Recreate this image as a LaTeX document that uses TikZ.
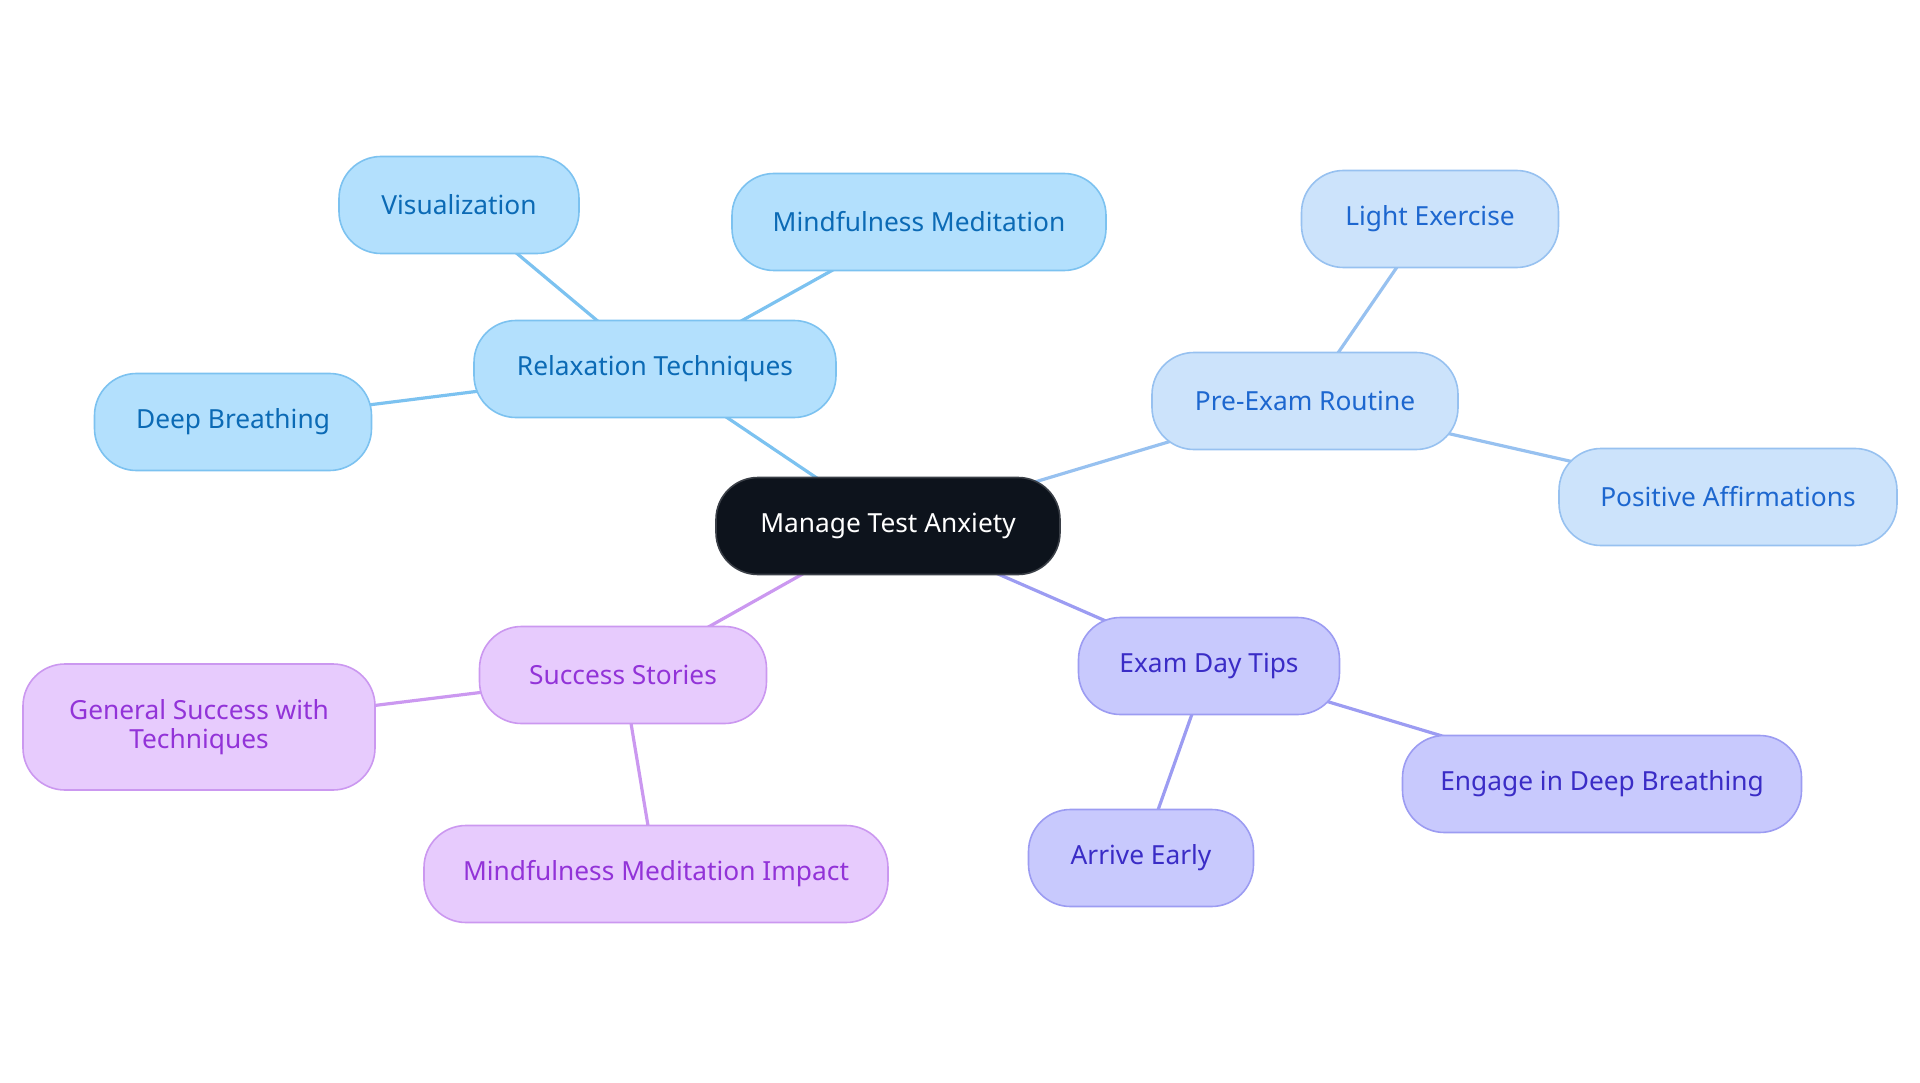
\documentclass[tikz,border=0pt]{standalone}
\usepackage{fontspec}
\setmainfont{Noto Sans}
\usetikzlibrary{backgrounds}
\definecolor{rootfill}{HTML}{0D131C}
\definecolor{rootdraw}{HTML}{3A3F47}
\definecolor{aFill}{HTML}{B3E0FD}
\definecolor{aDraw}{HTML}{7CC2F0}
\definecolor{aText}{HTML}{0B6AB5}
\definecolor{bFill}{HTML}{CCE3FB}
\definecolor{bDraw}{HTML}{97C1F0}
\definecolor{bText}{HTML}{1D67CF}
\definecolor{cFill}{HTML}{C8C9FD}
\definecolor{cDraw}{HTML}{9C9CF2}
\definecolor{cText}{HTML}{3A2CC6}
\definecolor{dFill}{HTML}{E7CBFD}
\definecolor{dDraw}{HTML}{CB98F0}
\definecolor{dText}{HTML}{9233D8}
\tikzset{
  x=1pt, y=-1pt,
  box/.style={rounded corners=42pt, minimum height=97pt, inner sep=0pt,
    line width=1.6pt, align=center,
    font=\fontsize{26.3}{30}\selectfont},
  rootbox/.style={box, fill=rootfill, draw=rootdraw, text=white},
  abox/.style={box, fill=aFill, draw=aDraw, text=aText},
  bbox/.style={box, fill=bFill, draw=bDraw, text=bText},
  cbox/.style={box, fill=cFill, draw=cDraw, text=cText},
  dbox/.style={box, fill=dFill, draw=dDraw, text=dText},
  aedge/.style={draw=aDraw, line width=3.2pt},
  bedge/.style={draw=bDraw, line width=3.2pt},
  cedge/.style={draw=cDraw, line width=3.2pt},
  dedge/.style={draw=dDraw, line width=3.2pt},
}
\begin{document}
\begin{tikzpicture}
\useasboundingbox (0,0) rectangle (1920,1083);
\node[rootbox, minimum width=344pt] (root) at (888,526) {Manage Test Anxiety};
% Relaxation branch
\node[abox, minimum width=362pt] (relax) at (655,369) {Relaxation Techniques};
\node[abox, minimum width=240pt] (visual) at (459,205) {Visualization};
\node[abox, minimum width=374pt] (mindm) at (919,222) {Mindfulness Meditation};
\node[abox, minimum width=277pt] (deepb) at (233,422) {Deep Breathing};
% Pre-exam branch
\node[bbox, minimum width=306pt] (pre) at (1305,401) {Pre-Exam Routine};
\node[bbox, minimum width=257pt] (light) at (1430,219) {Light Exercise};
\node[bbox, minimum width=338pt] (posit) at (1728,497) {Positive Affirmations};
% Exam day branch
\node[cbox, minimum width=261pt] (examday) at (1209,666) {Exam Day Tips};
\node[cbox, minimum width=399pt] (engage) at (1602,784) {Engage in Deep Breathing};
\node[cbox, minimum width=225pt] (arrive) at (1141,858) {Arrive Early};
% Success branch
\node[dbox, minimum width=352pt, minimum height=126pt] (general) at (199,727) {General Success with\\[-1pt]Techniques};
\node[dbox, minimum width=287pt] (success) at (623,675) {Success Stories};
\node[dbox, minimum width=464pt] (mimpact) at (656,874) {Mindfulness Meditation Impact};
\begin{pgfonlayer}{background}
\draw[aedge] (root.center) -- (relax.center);
\draw[aedge] (relax.center) -- (visual.center);
\draw[aedge] (relax.center) -- (mindm.center);
\draw[aedge] (relax.center) -- (deepb.center);
\draw[bedge] (root.center) -- (pre.center);
\draw[bedge] (pre.center) -- (light.center);
\draw[bedge] (pre.center) -- (posit.center);
\draw[cedge] (root.center) -- (examday.center);
\draw[cedge] (examday.center) -- (engage.center);
\draw[cedge] (examday.center) -- (arrive.center);
\draw[dedge] (root.center) -- (success.center);
\draw[dedge] (success.center) -- (general.center);
\draw[dedge] (success.center) -- (mimpact.center);
\end{pgfonlayer}
\end{tikzpicture}
\end{document}
